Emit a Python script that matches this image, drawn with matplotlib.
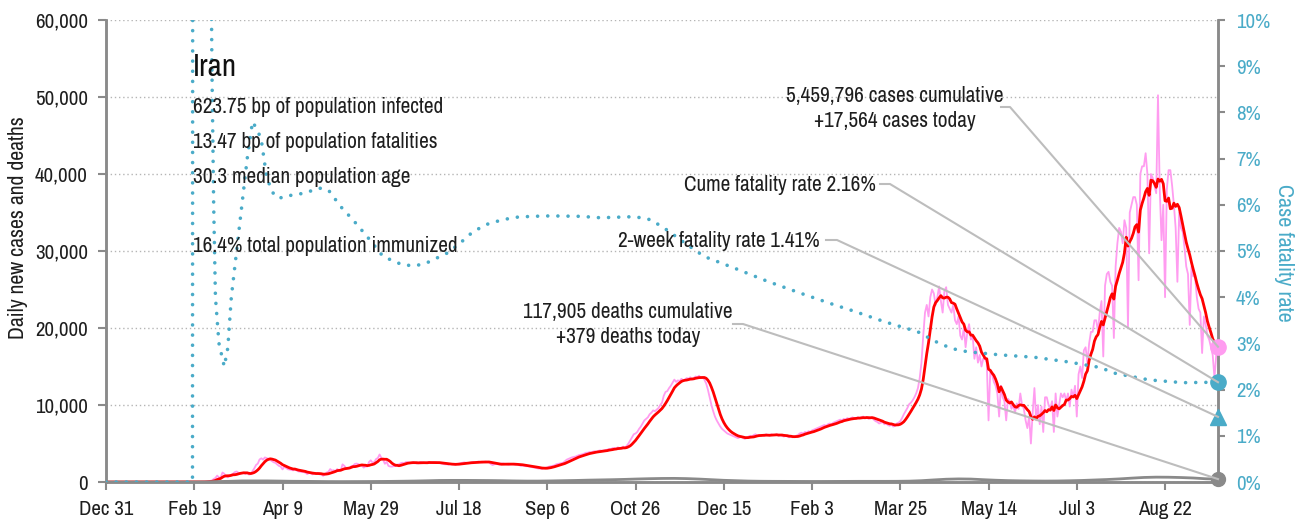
import numpy as np
import pandas as pd
import matplotlib
matplotlib.use("Agg")
import matplotlib.pyplot as plt
import matplotlib.dates as mdates
from matplotlib.lines import Line2D
from matplotlib.ticker import FuncFormatter, MultipleLocator

plt.rcParams['font.family'] = ['Archivo Narrow', 'DejaVu Sans']

# Daily new cases, one value per day starting 2019-12-31
cases = [
    0, 0, 0, 0, 0, 0, 0,  0, 0, 0, 0, 0, 0, 0,  0, 0, 0, 0, 0, 0, 0,
    0, 0, 0, 0, 0, 0, 0,  0, 0, 0, 0, 0, 0, 0,  0, 0, 0, 0, 0, 0, 0,
    0, 0, 0, 0, 0, 0, 0,
    0, 2, 3, 13, 10, 15, 18,
    34, 44, 106, 143, 205, 385, 523,
    835, 586, 591, 1234, 1076, 743, 595,
    881, 958, 1075, 1289, 1365, 1209, 1053,
    1178, 1192, 1046, 1237, 966, 1028, 1411,
    1762, 2206, 2389, 2926, 3076, 2901, 3186,
    3111, 2987, 2875, 2715, 2560, 2483, 2274,
    2089, 1997, 1634, 1972, 1837, 1657, 1617,
    1574, 1512, 1606, 1499, 1374, 1343, 1294,
    1297, 1194, 1030, 1168, 1134, 991, 1112,
    1073, 1194, 983, 1006, 802, 976, 1223,
    1323, 1680, 1485, 1529, 1383, 1683, 1481,
    1485, 2294, 2102, 1808, 1757, 1806, 2062,
    2111, 2346, 2392, 2311, 2180, 2113, 1869,
    2023, 2012, 2595, 2819, 2516, 2596, 2979,
    3117, 3574, 3134, 2886, 2364, 2615, 2095,
    2011, 2000, 2050, 2100, 2250, 2300, 2450,
    2500, 2450, 2600, 2550, 2500, 2450, 2560,
    2500, 2400, 2450, 2600, 2550, 2500, 2480,
    2520, 2600, 2450, 2500, 2550, 2520, 2480,
    2500, 2400, 2350, 2300, 2300, 2250, 2350,
    2300, 2300, 2250, 2350, 2400, 2450, 2500,
    2550, 2500, 2450, 2500, 2550, 2600, 2550,
    2600, 2650, 2600, 2550, 2600, 2650, 2600,
    2550, 2350, 2200, 2300, 2350, 2300, 2250,
    2400, 2400, 2350, 2300, 2250, 2300, 2350,
    2300, 2250, 2300, 2200, 2100, 2150, 2100,
    2050, 2050, 2000, 1950, 1900, 1850, 1800,
    1750, 1750, 1700, 1800, 1850, 1900, 2000,
    2050, 2100, 2150, 2300, 2350, 2400, 2450,
    2500, 2700, 2900, 3000, 3100, 3200, 3250,
    3300, 3400, 3500, 3550, 3600, 3700, 3800,
    3800, 3900, 3850, 3950, 4000, 3900, 4050,
    4100, 4050, 4100, 4150, 4200, 4300, 4250,
    4400, 4400, 4300, 4500, 4350, 4450, 4600,
    4400, 4700, 5000, 5400, 5800, 6200, 6300,
    6500, 6900, 7200, 7600, 8000, 8200, 8400,
    8800, 9000, 9300, 9200, 9400, 9600, 10000,
    10300, 11200, 11700, 11800, 12200, 12500, 12900,
    13300, 13000, 13200, 13100, 13400, 13200, 13300,
    13500, 13400, 13600, 13300, 13500, 13700, 13600,
    13800, 13500, 13600, 13300, 12800, 12000, 11000,
    10000, 9200, 8500, 8000, 7600, 7200, 6900,
    6700, 6500, 6300, 6200, 6100, 6000, 5900,
    5800, 5700, 5800, 5900, 5700, 5600, 5800,
    5900, 6000, 5900, 6100, 6200, 6000, 6100,
    6000, 6100, 6000, 6200, 6100, 6000, 6200,
    6100, 6100, 6200, 6000, 6100, 6000, 5900,
    6000, 5900, 5800, 5900, 5800, 5900, 6000,
    6100, 6300, 6400, 6300, 6500, 6400, 6600,
    6500, 6700, 6800, 6900, 7000, 7100, 7200,
    7300, 7400, 7300, 7500, 7600, 7500, 7700,
    7800, 7900, 8000, 8100, 8000, 8200, 8100,
    8300, 8200, 8300, 8400, 8200, 8300, 8400,
    8300, 8400, 8500, 8300, 8400, 8200, 8300,
    8400, 8100, 7900, 7800, 7600, 7700, 7800,
    7500, 7600, 7400, 7300, 7500, 7200, 7300,
    7600, 7700, 7900, 8300, 8800, 9200, 9600,
    10100, 10300, 10600, 11000, 11500, 12200, 13500,
    15500, 19000, 22000, 23000, 21500, 24000, 25000,
    24500, 23000, 24000, 25400, 23500, 22000, 24800,
    25300, 23000, 22500, 22000, 23000, 21000, 20500,
    21500, 19000, 18500, 20000, 17500, 19500, 20500,
    18500, 19000, 16000, 17500, 15500, 16500, 15000,
    16000, 16000, 15500, 8000, 14500, 14000, 13000,
    12500, 11500, 8500, 12500, 11000, 10500, 8000,
    10800, 10500, 9500, 10000, 9000, 10200, 9500,
    11500, 10000, 9500, 8000, 7000, 8500, 5000,
    9000, 12200, 8000, 10000, 7500, 9800, 6500,
    11000, 11000, 10000, 9500, 10500, 6500, 11500,
    8500, 10000, 11500, 11000, 11500, 10500, 11500,
    9800, 12000, 11000, 12500, 8500, 14000, 15000,
    13500, 17100, 17500, 15500, 18000, 19500, 19500,
    21000, 21000, 19500, 22000, 23500, 16300, 25500,
    27000, 27300, 26000, 25500, 18700, 28000, 31000,
    33000, 32500, 31000, 34000, 33000, 20000, 35000,
    36000, 37000, 37000, 36000, 26200, 40000, 41000,
    41000, 42700, 40000, 29700, 40000, 39500, 38500,
    37500, 50228, 38000, 31400, 36000, 24000, 38000,
    40500, 40500, 38500, 36000, 33000, 26000, 35000,
    33000, 32500, 30500, 28000, 27000, 20400, 28000,
    26700, 26700, 24000, 22500, 22000, 16750, 21500,
    20500, 19000, 18500, 17500, 16500, 13500, 16500,
    17564,
]

# Daily deaths, sampled every 7 days
deaths_weekly = [
    0, 0, 0, 0, 0, 0, 0, 2, 10, 60, 90, 140, 140, 140, 120, 95, 85, 70,
    55, 50, 55, 60, 70, 80, 100, 125, 160, 200, 210, 210, 200, 190, 170,
    140, 120, 120, 140, 170, 200, 240, 270, 300, 340, 390, 430, 460, 470,
    440, 380, 300, 220, 170, 120, 95, 85, 80, 75, 70, 70, 75, 80, 85, 85,
    85, 90, 110, 170, 270, 360, 400, 380, 300, 230, 180, 150, 130, 120,
    130, 160, 200, 260, 320, 400, 500, 590, 630, 620, 580, 520, 420, 379,
]

# Cumulative case fatality rate (%), day index -> value
cfr_days = [0, 49, 50, 55, 59, 60, 61, 62, 64, 67, 69, 71, 74, 77, 80, 83,
            86, 88, 91, 94, 96, 100, 104, 112, 121, 126, 133, 140, 148, 157,
            168, 175, 181, 193, 200, 208, 216, 224, 232, 241, 252, 269, 280,
            297, 304, 309, 318, 328, 339, 356, 375, 394, 413, 422, 441, 460,
            470, 479, 488, 507, 526, 545, 563, 572, 591, 610, 630]
cfr_pct = [0, 0, 100, 40, 14, 9, 6, 4, 3.0, 2.5, 2.9, 4.0, 5.0, 6.0, 7.0,
           7.8, 7.6, 7.4, 6.6, 6.3, 6.17, 6.15, 6.2, 6.25, 6.36, 6.32, 5.96,
           5.67, 5.31, 4.88, 4.70, 4.68, 4.73, 4.95, 5.15, 5.42, 5.58, 5.67,
           5.73, 5.75, 5.76, 5.75, 5.72, 5.74, 5.72, 5.67, 5.45, 5.17, 4.88,
           4.63, 4.34, 4.08, 3.83, 3.72, 3.47, 3.25, 3.04, 2.89, 2.82, 2.75,
           2.70, 2.60, 2.48, 2.35, 2.21, 2.15, 2.16]

cases_today = 17564
deaths_today = 379
cume_cfr = 2.16
twoweek_cfr = 1.41

info_lines = ["623.75 bp of population infected",
              "13.47 bp of population fatalities",
              "30.3 median population age",
              "16.4% total population immunized"]

PINK = '#ff9cf0'
RED = '#ff0000'
TEAL = '#4aabc8'
GREY = '#8a8a8a'
LEAD = '#bdbdbd'
INK = '#1e1e1e'
FS = 15
FS_NOTE = 15.3

dates = pd.date_range('2019-12-31', periods=len(cases), freq='D')
daily = pd.Series(cases, index=dates)
avg7 = daily.rolling(7, min_periods=1).mean()
death_dates = dates[::7]

W, H = 1297, 525
fig = plt.figure(figsize=(W / 100, H / 100), dpi=100)
ax = fig.add_axes([106 / W, 43 / H, (1218 - 106) / W, 462 / H])
ax2 = ax.twinx()

ax.plot(dates, daily.values, color=PINK, lw=1.3, zorder=2)
ax.plot(dates, avg7.values, color=RED, lw=2.0, zorder=3)
ax.plot(death_dates, deaths_weekly, color=GREY, lw=2.0, zorder=3)

ax2.plot(dates[cfr_days], cfr_pct, color=TEAL, lw=2.6,
         linestyle=(0, (0.01, 2.8)), dash_capstyle='round', zorder=4)

ax.set_xlim(dates[0], dates[-1])
ax.set_ylim(0, 60000)
ax2.set_ylim(0, 10)

ax.yaxis.set_major_locator(MultipleLocator(10000))
ax.yaxis.set_major_formatter(FuncFormatter(lambda v, p: f"{int(v):,}"))
ax2.yaxis.set_major_locator(MultipleLocator(1))
ax2.yaxis.set_major_formatter(FuncFormatter(lambda v, p: f"{int(round(v))}%"))

tick_dates = dates[::50]
ax.set_xticks(tick_dates)
ax.set_xticklabels([f"{d:%b} {d.day}" for d in tick_dates])

ax.grid(axis='y', linestyle=(0, (1, 2)), color='#b5b5b5', lw=1)
ax.set_axisbelow(True)

for a in (ax, ax2):
    a.spines['top'].set_visible(False)
    for side in ('left', 'right', 'bottom'):
        a.spines[side].set_color(GREY)
        a.spines[side].set_linewidth(1.8)
ax.tick_params(axis='both', colors=GREY, labelcolor=INK, labelsize=FS,
               length=6, width=1.5, direction='out')
ax.tick_params(axis='y', pad=7)
ax.tick_params(axis='x', pad=7)
ax2.tick_params(axis='y', colors=GREY, labelcolor=TEAL, labelsize=FS,
                length=5, width=1.5, pad=8)

fig.text(18 / W, 1 - 228 / H, "Daily new cases and deaths", rotation=90,
         ha='center', va='center', fontsize=15.7, color=INK)
fig.text(1284 / W, 1 - 253 / H, "Case fatality rate", rotation=270,
         ha='center', va='center', fontsize=16, color=TEAL)

# country block
fig.text(193 / W, 1 - 76 / H, "Iran", fontsize=22.5, color='#111111',
         va='baseline')
for txt, base in zip(info_lines, [113, 148, 183, 252]):
    fig.text(193 / W, 1 - base / H, txt, fontsize=FS_NOTE, color=INK,
             va='baseline')

# end-of-series markers
x_end = mdates.date2num(dates[-1])
ax2.plot([x_end], [cases_today], 'o', ms=11, color=PINK, transform=ax.transData,
         clip_on=False, zorder=7)
ax2.plot([x_end], [deaths_today], 'o', ms=10, color=GREY, transform=ax.transData,
         clip_on=False, zorder=7)
ax2.plot([x_end], [cume_cfr], 'o', ms=11, color=TEAL, clip_on=False, zorder=7)
ax2.plot([x_end], [twoweek_cfr], '^', ms=11, color=TEAL, clip_on=False, zorder=7)


def leader(x0, x1, y, target_disp):
    """Stub from (x0, y) to (x1, y) in top-left pixel coords, then on to target."""
    inv = fig.transFigure.inverted()
    pts = [(x0, H - y), (x1, H - y), tuple(target_disp)]
    fpts = inv.transform(pts)
    fig.add_artist(Line2D(fpts[:, 0], fpts[:, 1], color=LEAD, lw=1.5,
                          transform=fig.transFigure, zorder=5))


leader(1001, 1010, 107, ax.transData.transform((x_end, cases_today)))
leader(880, 890, 184, ax2.transData.transform((x_end, cume_cfr)))
leader(826, 837, 240, ax2.transData.transform((x_end, twoweek_cfr)))
leader(733, 743, 324, ax.transData.transform((x_end, deaths_today)))

fig.text(895 / W, 1 - 102 / H, "5,459,796 cases cumulative", fontsize=FS_NOTE,
         ha='center', va='baseline', color=INK)
fig.text(895 / W, 1 - 127 / H, f"+{cases_today:,} cases today", fontsize=FS_NOTE,
         ha='center', va='baseline', color=INK)
fig.text(876 / W, 1 - 191 / H, f"Cume fatality rate {cume_cfr:.2f}%",
         fontsize=FS_NOTE, ha='right', va='baseline', color=INK)
fig.text(820 / W, 1 - 247 / H, f"2-week fatality rate {twoweek_cfr:.2f}%",
         fontsize=FS_NOTE, ha='right', va='baseline', color=INK)
fig.text(628 / W, 1 - 318 / H, "117,905 deaths cumulative", fontsize=FS_NOTE,
         ha='center', va='baseline', color=INK)
fig.text(628 / W, 1 - 343 / H, f"+{deaths_today} deaths today", fontsize=FS_NOTE,
         ha='center', va='baseline', color=INK)

fig.savefig("out.png", dpi=100)
